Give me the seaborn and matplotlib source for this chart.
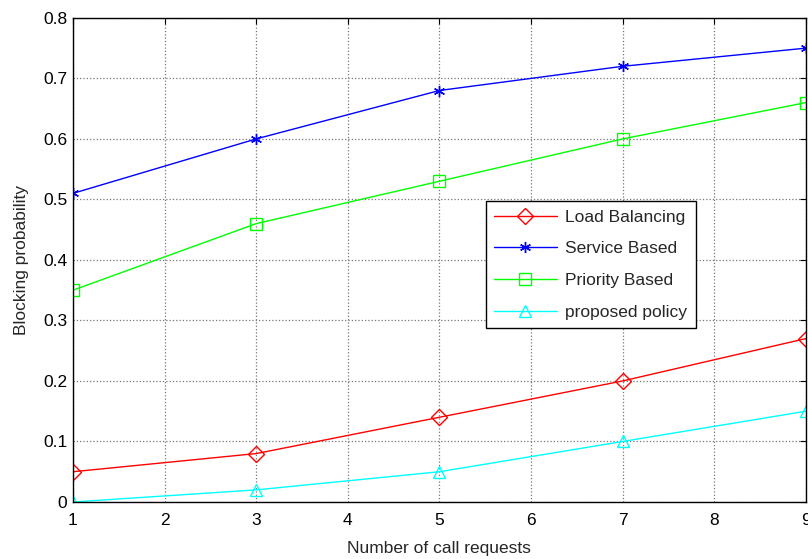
import matplotlib
matplotlib.use("Agg")
import matplotlib.pyplot as plt
import pandas as pd
import seaborn as sns

calls = [1, 3, 5, 7, 9]
load_balancing = [0.05, 0.08, 0.14, 0.20, 0.27]
service_based = [0.51, 0.60, 0.68, 0.72, 0.75]
priority_based = [0.35, 0.46, 0.53, 0.60, 0.66]
proposed_policy = [0.00, 0.02, 0.05, 0.10, 0.15]

labels = ["Load Balancing", "Service Based", "Priority Based", "proposed policy"]
series = [load_balancing, service_based, priority_based, proposed_policy]
colors = ["#ff0000", "#0000ff", "#00ff00", "#00ffff"]
markers = ["D", (6, 2, 0), "s", "^"]
msizes = [8, 8, 9, 9]

sns.set_style("white")
plt.rcParams["font.family"] = ["Liberation Sans", "DejaVu Sans"]

fig = plt.figure(figsize=(8.08, 5.59), dpi=100)
ax = fig.add_axes([0.0903, 0.102, 0.907, 0.866])

for lab, vals, c, m, ms in zip(labels, series, colors, markers, msizes):
    df = pd.DataFrame({"x": calls, "y": vals})
    sns.lineplot(data=df, x="x", y="y", ax=ax, color=c, marker=m, markersize=ms,
                 markerfacecolor="none", markeredgecolor=c, markeredgewidth=1.0,
                 linewidth=1.0, label=lab)

ax.set_xlim(1, 9)
ax.set_ylim(0, 0.8)
ax.set_xticks(range(1, 10))
ax.set_yticks([0, 0.1, 0.2, 0.3, 0.4, 0.5, 0.6, 0.7, 0.8])
ax.set_yticklabels(["0", "0.1", "0.2", "0.3", "0.4", "0.5", "0.6", "0.7", "0.8"])
ax.grid(True, color="#777777", linestyle=":", linewidth=0.9)
ax.tick_params(direction="in", length=4, labelsize=12.5, top=True, right=True,
               colors="black")
ax.tick_params(axis="x", pad=8)
ax.tick_params(axis="y", pad=4)
for sp in ax.spines.values():
    sp.set_color("black")
    sp.set_linewidth(1.0)
ax.set_xlabel("Number of call requests", fontsize=12.5, labelpad=9)
ax.set_ylabel("Blocking probability", fontsize=12.5, labelpad=10)

leg = ax.legend(loc="upper left", bbox_to_anchor=(0.563, 0.622), fontsize=12.5,
                frameon=True, fancybox=False, edgecolor="black", framealpha=1,
                handlelength=3.6, handletextpad=0.5, borderpad=0.5,
                labelspacing=0.95, borderaxespad=0)
leg.get_frame().set_linewidth(1.0)

fig.savefig("out.png", dpi=100)
